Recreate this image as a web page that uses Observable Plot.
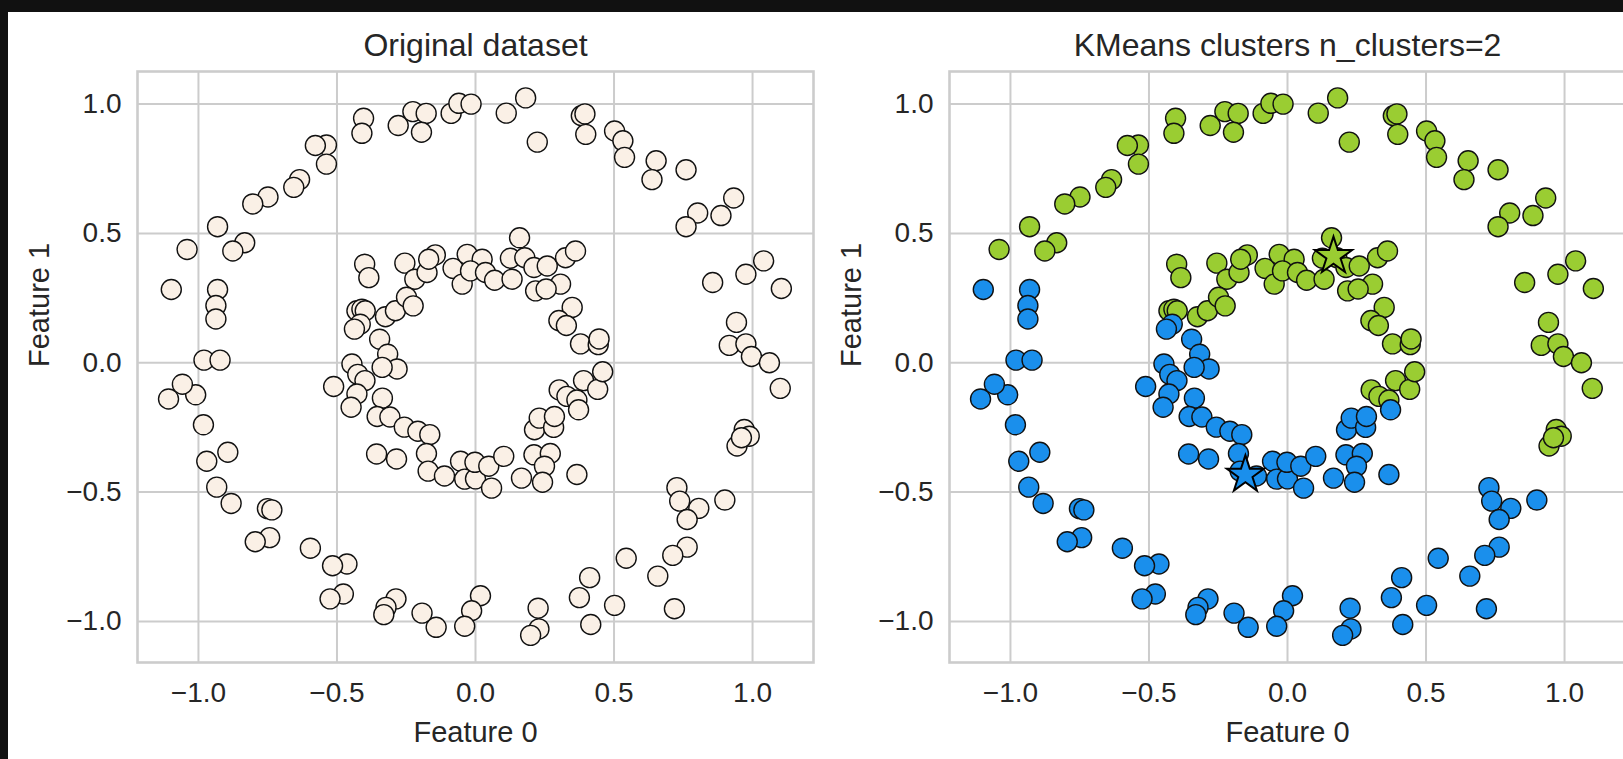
<!DOCTYPE html>
<html>
<head>
<meta charset="utf-8">
<script src="https://cdn.jsdelivr.net/npm/d3@7"></script>
<script src="https://cdn.jsdelivr.net/npm/@observablehq/plot@0.6"></script>
<style>
  html, body { margin: 0; padding: 0; }
  body { width: 1623px; height: 759px; background: #111111; overflow: hidden; position: relative; font-family: "Liberation Sans", Arial, sans-serif; }
  #sheet { position: absolute; left: 8px; top: 12px; width: 1615px; height: 747px; background: #ffffff; overflow: hidden; }
  #p1 { position: absolute; left: 0; top: 0; width: 812px; height: 747px; }
  #p2 { position: absolute; left: 812px; top: 0; width: 812px; height: 747px; }
  #p1 svg, #p2 svg { max-width: none !important; }
</style>
</head>
<body>
<div id="sheet"><div id="p1"></div><div id="p2"></div></div>
<script>
// ---- data ----
const tickValues = [-1, -0.5, 0, 0.5, 1];
const titles = ["Original dataset", "KMeans clusters n_clusters=2"];
const xLabel = "Feature 0";
const yLabel = "Feature 1";

// cluster 0 (green) points
const greenX = [-0.538,-0.578,-0.538,-0.635,-0.656,-0.749,-0.804,-0.931,-0.833,-0.876,-1.041,
  -0.404,-0.41,-0.279,-0.226,-0.178,-0.195,-0.088,-0.060,-0.016,0.111,0.181,0.223,0.382,0.395,0.398,
  0.502,0.532,0.538,0.652,0.637,0.760,0.932,0.802,0.886,0.760,1.040,0.976,0.856,1.104,0.942,0.916,0.976,0.996,1.061,
  1.100,0.970,0.988,0.944,0.96,
  -0.400,-0.385,-0.255,-0.219,-0.175,-0.145,-0.169,-0.081,-0.048,-0.030,0.024,-0.018,0.036,0.069,0.132,0.159,0.126,0.178,0.211,0.259,0.307,0.217,0.255,0.325,0.361,0.349,0.301,0.328,0.379,0.443,0.446,
  -0.428,-0.410,-0.398,-0.325,-0.289,-0.249,-0.225,
  0.302,0.33,0.366,0.39,0.441,0.459];
const greenY = [0.842,0.840,0.768,0.708,0.678,0.641,0.614,0.526,0.464,0.432,0.438,
  0.945,0.887,0.917,0.971,0.964,0.891,0.964,1.003,1.0,0.965,1.024,0.853,0.955,0.962,0.883,
  0.896,0.858,0.794,0.781,0.708,0.746,0.637,0.579,0.569,0.526,0.394,0.342,0.310,0.287,0.156,0.067,0.073,0.024,0.0,
  -0.099,-0.258,-0.284,-0.322,-0.29,
  0.381,0.329,0.385,0.323,0.349,0.417,0.40,0.365,0.304,0.419,0.40,0.355,0.349,0.319,0.323,0.483,0.404,0.406,0.368,0.374,0.304,0.278,0.285,0.406,0.432,0.214,0.163,0.144,0.073,0.070,0.092,
  0.201,0.207,0.201,0.178,0.201,0.253,0.220,
  -0.105,-0.13,-0.144,-0.069,-0.103,-0.035];

// cluster 1 (blue) points
const blueX = [-1.098,-0.931,-0.937,-0.937,-0.980,-0.922,
  0.727,0.737,0.806,0.764,0.900,0.764,0.712,0.658,0.544,0.502,0.718,0.412,0.416,0.375,
  0.226,0.229,0.199,0.018,-0.014,-0.039,-0.142,-0.193,-0.287,-0.323,-0.331,
  -0.477,-0.525,-0.464,-0.516,-0.596,-0.743,-0.795,-0.751,-0.735,-0.882,-0.934,-0.970,-0.894,-0.982,-1.01,-1.108,-1.058,
  -0.416,-0.437,-0.346,-0.317,-0.446,-0.283,-0.337,
  -0.425,-0.399,-0.512,-0.428,-0.449,-0.336,-0.355,-0.309,-0.257,-0.208,-0.165,-0.357,-0.285,-0.177,-0.171,-0.112,-0.054,-0.039,0.0,-0.002,0.048,0.102,0.058,0.166,0.211,0.270,0.249,0.242,0.213,0.23,0.282,0.285,0.366,0.372];
const blueY = [0.283,0.283,0.221,0.169,0.010,0.010,
  -0.483,-0.535,-0.563,-0.606,-0.531,-0.713,-0.745,-0.825,-0.756,-0.938,-0.951,-0.831,-1.012,-0.908,
  -0.949,-1.029,-1.054,-0.901,-0.959,-1.019,-1.023,-0.968,-0.913,-0.946,-0.974,
  -0.894,-0.913,-0.778,-0.785,-0.717,-0.676,-0.692,-0.564,-0.569,-0.544,-0.481,-0.381,-0.346,-0.240,-0.124,-0.140,-0.083,
  0.149,0.130,0.091,0.033,-0.005,-0.024,-0.018,
  -0.045,-0.069,-0.092,-0.121,-0.172,-0.137,-0.208,-0.210,-0.249,-0.265,-0.278,-0.353,-0.372,-0.351,-0.419,-0.438,-0.381,-0.45,-0.449,-0.385,-0.40,-0.362,-0.485,-0.446,-0.356,-0.351,-0.40,-0.462,-0.259,-0.214,-0.25,-0.208,-0.432,-0.182];

// cluster centres (stars)
const centerX = [0.166, -0.152];
const centerY = [0.412, -0.433];

const clusterColors = ["#9acd32", "#1a8fec"];
const originalColor = "#faf0e6";

// ---- build tables ----
const points = [
  ...greenX.map((x, i) => ({x, y: greenY[i], color: clusterColors[0]})),
  ...blueX.map((x, i) => ({x, y: blueY[i], color: clusterColors[1]}))
];
const centers = centerX.map((x, i) => ({x, y: centerY[i], color: clusterColors[i]}));

const textColor = "#262626";
const gridColor = "#cccccc";
const font = "Liberation Sans, Arial, sans-serif";

function panel(title, withClusters) {
  const marks = [
    Plot.gridX(tickValues, {stroke: gridColor, strokeOpacity: 1, strokeWidth: 2}),
    Plot.gridY(tickValues, {stroke: gridColor, strokeOpacity: 1, strokeWidth: 2}),
    Plot.frame({stroke: gridColor, strokeWidth: 2.6}),
    Plot.dot(points, {x: "x", y: "y", r: 10, fill: withClusters ? "color" : originalColor,
      stroke: "#111111", strokeWidth: 1.4})
  ];
  if (withClusters) {
    marks.push(Plot.dot(centers, {x: "x", y: "y", symbol: "star", r: 11.7, fill: "color",
      stroke: "#000000", strokeWidth: 2}));
  }
  marks.push(
    Plot.axisX(tickValues, {tickSize: 0, tickPadding: 20, fontSize: 28, fill: textColor,
      tickFormat: d3.format(".1f"), label: null}),
    Plot.axisY(tickValues, {tickSize: 0, tickPadding: 16, fontSize: 28, fill: textColor,
      tickFormat: d3.format(".1f"), label: null}),
    Plot.text([title], {frameAnchor: "top", dy: -16, lineAnchor: "bottom", fontSize: 32, fill: textColor}),
    Plot.text([xLabel], {frameAnchor: "bottom", dy: 79, lineAnchor: "bottom", fontSize: 29, fill: textColor}),
    Plot.text([yLabel], {frameAnchor: "left", dx: -98, rotate: -90, lineAnchor: "middle", fontSize: 29, fill: textColor})
  );
  return Plot.plot({
    width: 812,
    height: 747,
    marginLeft: 129,
    marginRight: 7,
    marginTop: 59,
    marginBottom: 97,
    x: {domain: [-1.22, 1.22]},
    y: {domain: [-1.159, 1.126]},
    color: {type: "identity"},
    style: {fontFamily: font, color: textColor, background: "transparent", overflow: "visible", maxWidth: "none"},
    marks
  });
}

document.getElementById("p1").appendChild(panel(titles[0], false));
document.getElementById("p2").appendChild(panel(titles[1], true));
</script>
</body>
</html>
